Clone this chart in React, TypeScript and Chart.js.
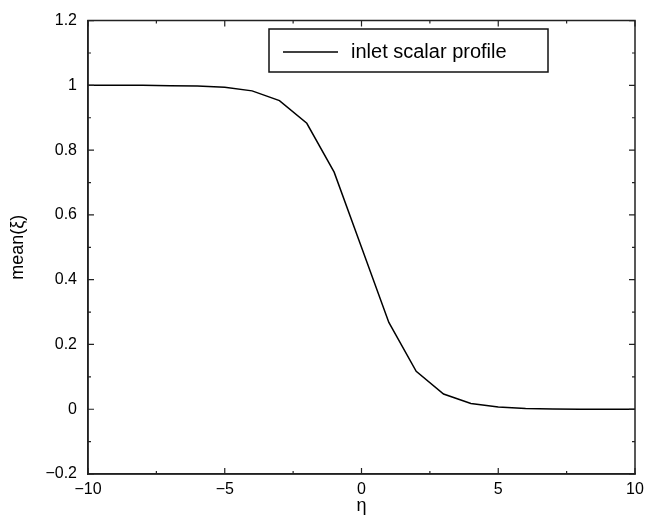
import React, { useEffect, useRef } from "react";
import { Chart, registerables } from "chart.js";

Chart.register(...registerables);

// ---- data ----
const etaValues = [-10, -9, -8, -7, -6, -5, -4, -3, -2, -1, 0, 1, 2, 3, 4, 5, 6, 7, 8, 9, 10];
const meanXi = [1.0, 1.0, 1.0, 0.999, 0.998, 0.994, 0.983, 0.953, 0.883, 0.732, 0.5, 0.268, 0.117, 0.047, 0.018, 0.007, 0.002, 0.001, 0.0, 0.0, 0.0];
const seriesLabel = "inlet scalar profile";
const xTickValues = [-10, -7.5, -5, -2.5, 0, 2.5, 5, 7.5, 10];
const xMajorTicks = [-10, -5, 0, 5, 10];
const yTickValues = [-0.2, -0.1, 0, 0.1, 0.2, 0.3, 0.4, 0.5, 0.6, 0.7, 0.8, 0.9, 1.0, 1.1, 1.2];
const yMajorTicks = [-0.2, 0, 0.2, 0.4, 0.6, 0.8, 1.0, 1.2];
const xTitle = "η";
const yTitle = "mean(ξ)";

const FONT = "'Liberation Sans', Arial, Helvetica, sans-serif";

const fmt = (v: number) => Number(v.toFixed(1)).toString().replace("-", "−");

const isMajor = (v: number, majors: number[]) => majors.some((m) => Math.abs(m - v) < 1e-9);

const frameTicksPlugin = {
  id: "frameTicks",
  afterDatasetsDraw(chart: any) {
    const { ctx, chartArea } = chart;
    const { left, right, top, bottom } = chartArea;
    const xs = chart.scales.x;
    const ys = chart.scales.y;
    ctx.save();
    ctx.strokeStyle = "#222";
    ctx.lineWidth = 1.5;
    ctx.beginPath();
    ctx.rect(left, top, right - left, bottom - top);
    ctx.stroke();
    ctx.lineWidth = 1.2;
    ctx.beginPath();
    xTickValues.forEach((v) => {
      const px = xs.getPixelForValue(v);
      const len = isMajor(v, xMajorTicks) ? 6 : 3;
      ctx.moveTo(px, bottom);
      ctx.lineTo(px, bottom - len);
      ctx.moveTo(px, top);
      ctx.lineTo(px, top + len);
    });
    yTickValues.forEach((v) => {
      const py = ys.getPixelForValue(v);
      const len = isMajor(v, yMajorTicks) ? 6 : 3;
      ctx.moveTo(left, py);
      ctx.lineTo(left + len, py);
      ctx.moveTo(right, py);
      ctx.lineTo(right - len, py);
    });
    ctx.stroke();

    // legend box
    const ds = chart.data.datasets[0];
    const bx = 269, by = 29, bw = 279, bh = 43;
    ctx.lineWidth = 1.5;
    ctx.strokeStyle = "#111";
    ctx.fillStyle = "#fff";
    ctx.fillRect(bx, by, bw, bh);
    ctx.strokeRect(bx, by, bw, bh);
    ctx.strokeStyle = ds.borderColor;
    ctx.lineWidth = ds.borderWidth;
    ctx.beginPath();
    ctx.moveTo(283, 52);
    ctx.lineTo(338, 52);
    ctx.stroke();
    ctx.fillStyle = "#000";
    ctx.font = `20px ${FONT}`;
    ctx.textBaseline = "middle";
    ctx.textAlign = "left";
    ctx.fillText(ds.label, 351, 52);
    ctx.restore();
  },
};

export default function App() {
  const ref = useRef<HTMLCanvasElement | null>(null);

  useEffect(() => {
    if (!ref.current) return;
    const chart = new Chart(ref.current, {
      type: "line",
      data: {
        datasets: [
          {
            label: seriesLabel,
            data: etaValues.map((x, i) => ({ x, y: meanXi[i] })),
            borderColor: "#000",
            borderWidth: 1.5,
            pointRadius: 0,
            tension: 0,
            fill: false,
          },
        ],
      },
      options: {
        responsive: false,
        animation: false,
        events: [],
        layout: { padding: { top: 19, right: 16, left: 0, bottom: 0 } },
        plugins: {
          legend: { display: false },
          tooltip: { enabled: false },
        },
        scales: {
          x: {
            type: "linear",
            min: -10,
            max: 10,
            afterFit: (s: any) => {
              s.height = 43;
            },
            grid: { display: false, drawTicks: false },
            border: { display: true, color: "#222", width: 1.5 },
            ticks: {
              stepSize: 5,
              autoSkip: false,
              maxRotation: 0,
              padding: 6,
              color: "#000",
              font: { family: FONT, size: 16 },
              callback: (v: any) => fmt(Number(v)),
            },
            title: {
              display: true,
              text: xTitle,
              color: "#000",
              font: { family: FONT, size: 18 },
              padding: { top: 0, bottom: 0 },
            },
          },
          y: {
            type: "linear",
            min: -0.2,
            max: 1.2,
            afterFit: (s: any) => {
              s.width = 88;
            },
            grid: { display: false, drawTicks: false },
            border: { display: true, color: "#222", width: 1.5 },
            ticks: {
              stepSize: 0.2,
              autoSkip: false,
              padding: 11,
              color: "#000",
              font: { family: FONT, size: 16 },
              callback: (v: any) => fmt(Number(v)),
            },
            title: {
              display: true,
              text: yTitle,
              color: "#000",
              font: { family: FONT, size: 18 },
              padding: { top: 7, bottom: 0 },
            },
          },
        },
      } as any,
      plugins: [frameTicksPlugin],
    });
    return () => chart.destroy();
  }, []);

  return (
    <div style={{ position: "fixed", left: 0, top: 0, width: 651, height: 517, background: "#fff" }}>
      <canvas ref={ref} width={651} height={517} style={{ display: "block", width: 651, height: 517 }} />
    </div>
  );
}
